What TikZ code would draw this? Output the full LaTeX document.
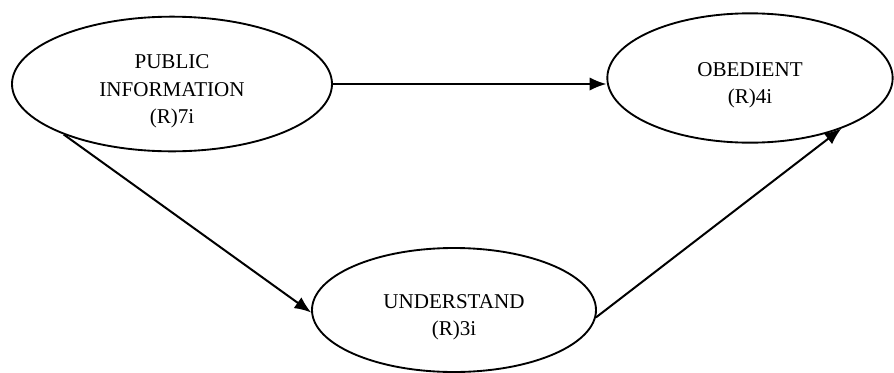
\documentclass[tikz,border=0pt]{standalone}
\usepackage{fontspec}
\setmainfont{Liberation Serif}
\usetikzlibrary{shapes.geometric,arrows.meta}

\begin{document}
\begin{tikzpicture}[x=0.75pt,y=-0.75pt,
  blob/.style 2 args={ellipse,draw,line width=1.4pt,inner sep=0pt,minimum width=#1,minimum height=#2},
  txt/.style={align=center,font=\fontsize{15.8}{20.5}\selectfont,yshift=-5.5pt},
  link/.style={line width=1.5pt,-{Latex[length=12.5pt,width=10pt]}}]
\useasboundingbox (0,0) rectangle (894,372);
% the three ellipses
\node[blob={240pt}{101pt}] (pub) at (172,84) {};
\node[blob={214pt}{97pt}] (obe) at (750,78) {};
\node[blob={213pt}{93pt}] (und) at (454,310) {};
\node[txt] (pubtxt) at (pub) {PUBLIC\\INFORMATION\\(R)7i};
\node[txt] (obetxt) at (obe) {OBEDIENT\\(R)4i};
\node[txt] (undtxt) at (und) {UNDERSTAND\\(R)3i};
% arrows
\draw[link] (pub.east) -- (pub.east -| obe.west);
\draw[link] (pub.205) -- (und.181);
\draw[link] (und.357) -- (obe.331);
\end{tikzpicture}
\end{document}
